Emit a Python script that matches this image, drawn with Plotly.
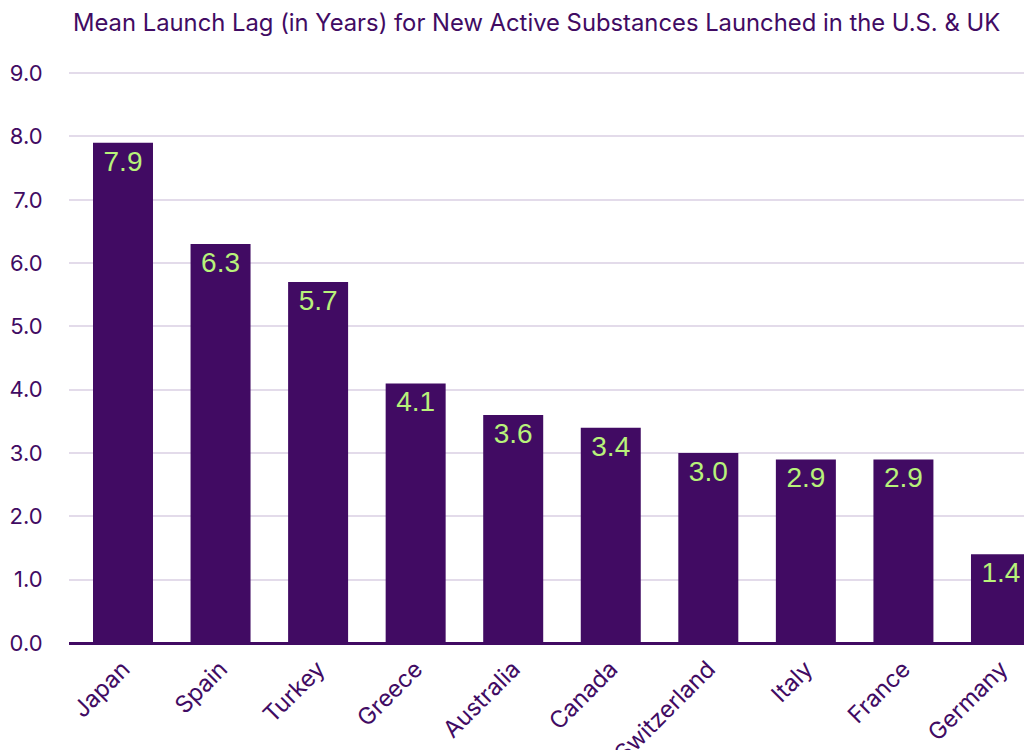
import plotly.graph_objects as go

countries = ["Japan", "Spain", "Turkey", "Greece", "Australia", "Canada",
             "Switzerland", "Italy", "France", "Germany"]
lag_years = [7.9, 6.3, 5.7, 4.1, 3.6, 3.4, 3.0, 2.9, 2.9, 1.4]
title_text = "Mean Launch Lag (in Years) for New Active Substances Launched in the U.S. & UK"

PURPLE = "#410b63"
GREEN = "#b8f27a"
FONT = "Inter"

fig = go.Figure(go.Bar(
    x=countries, y=lag_years,
    marker=dict(color=PURPLE, line=dict(width=0)),
    width=0.615,
    text=[f"{v:.1f}" for v in lag_years],
    textposition="inside", insidetextanchor="end",
    textfont=dict(color=GREEN, size=28, family="Liberation Sans"),
    textangle=0,
    hoverinfo="skip",
))

# page body has an 8px default margin, so the figure is sized 1024x742
fig.update_layout(
    width=1024, height=742,
    margin=dict(l=61, r=0, t=62, b=107),
    paper_bgcolor="white", plot_bgcolor="white",
    font=dict(family=FONT, color=PURPLE),
    showlegend=False,
    uniformtext=dict(mode=False),
    annotations=[dict(text=title_text, xref="paper", yref="paper",
                      x=0.0, y=1.0, xanchor="left", yanchor="middle", yshift=48,
                      xshift=2,
                      showarrow=False, font=dict(size=23.8, color=PURPLE, family=FONT))],
)
fig.update_xaxes(
    range=[-0.5535, 9.318], automargin=False,
    tickangle=-45, tickfont=dict(size=23.5, color=PURPLE, family=FONT),
    showgrid=False, ticks="outside", ticklen=2, tickcolor="rgba(0,0,0,0)", showline=False,
)
fig.update_yaxes(
    range=[0, 9.05], automargin=False, tickvals=[0, 1, 2, 3, 4, 5, 6, 7, 8, 9],
    ticktext=[f"{v:.1f}" for v in range(10)],
    tickfont=dict(size=22, color=PURPLE, family=FONT),
    showgrid=True, gridcolor="#e3dbea", gridwidth=1.5,
    zeroline=True, zerolinecolor=PURPLE, zerolinewidth=2.5,
    ticks="outside", ticklen=21, tickcolor="rgba(0,0,0,0)",
)

fig.write_html("out.html")
